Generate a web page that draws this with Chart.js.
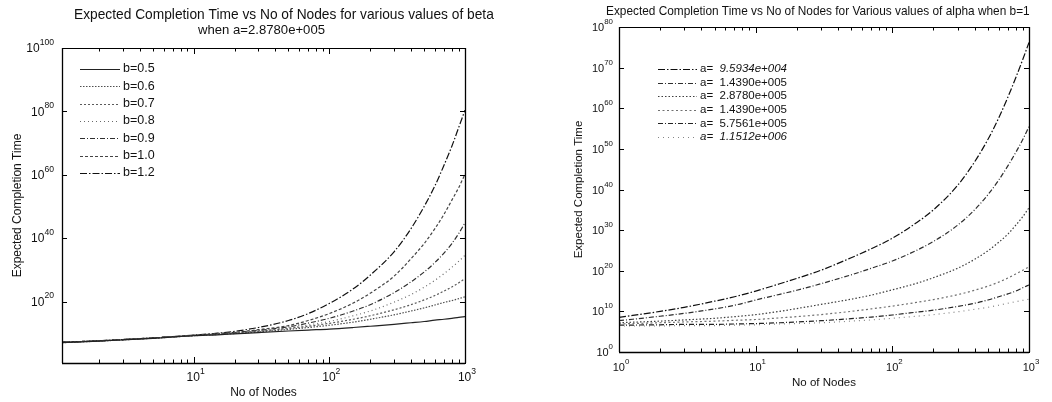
<!DOCTYPE html>
<html>
<head>
<meta charset="utf-8">
<script src="https://cdn.jsdelivr.net/npm/chart.js@4.4.0/dist/chart.umd.min.js"></script>
<style>
  html, body { margin: 0; padding: 0; background: #fff; }
  #wrap { position: relative; width: 1052px; height: 402px; overflow: hidden; }
  canvas { position: absolute; top: 0; }
</style>
</head>
<body>
<div id="wrap">
  <canvas id="betaChart" width="526" height="402" style="left:0"></canvas>
  <canvas id="alphaChart" width="526" height="402" style="left:526px"></canvas>
</div>
<script>
// ---- Left panel: completion time for several beta values (a = 2.8780e+005) ----
const betaNodes = [1.07, 2, 3, 5, 7, 10, 15, 20, 30, 50, 70, 100, 150, 200, 300, 400, 500, 600, 700, 800, 900, 1000];
const betaNames = ['b=0.5', 'b=0.6', 'b=0.7', 'b=0.8', 'b=0.9', 'b=1.0', 'b=1.2'];
const beta05 = [1e7, 3.2e7, 7.9e7, 2.5e8, 6.3e8, 1.6e9, 3.2e9, 6.3e9, 1.6e10, 5e10, 1e11, 2e11, 6.3e11, 1.6e12, 6.3e12, 2e13, 5e13, 1.3e14, 2.5e14, 5e14, 1e15, 1.6e15];
const beta06 = [1e7, 3.2e7, 7.9e7, 2.5e8, 6.3e8, 1.6e9, 4e9, 7.9e9, 2.5e10, 1.6e11, 6.3e11, 3.2e12, 3.2e13, 2.5e14, 6.3e15, 1e17, 1e18, 7.9e18, 5e19, 2e20, 7.9e20, 3.2e21];
const beta07 = [1.3e7, 4e7, 1e8, 3.2e8, 7.9e8, 2e9, 5e9, 1e10, 4e10, 3.2e11, 1.6e12, 1.3e13, 2.5e14, 3.2e15, 2.5e17, 1e19, 3.2e20, 7.9e21, 2e23, 4e24, 7.9e25, 1.6e27];
const beta08 = [1.3e7, 4e7, 1e8, 3.2e8, 7.9e8, 2e9, 6.3e9, 1.3e10, 5e10, 5e11, 4e12, 5e13, 3.2e15, 1e17, 6.3e19, 1.6e22, 3.2e24, 5e26, 6.3e28, 6.3e30, 5e32, 4e34];
const beta09 = [1.6e7, 4e7, 1e8, 3.2e8, 7.9e8, 2e9, 6.3e9, 1.6e10, 7.9e10, 1e12, 1.6e13, 5e14, 1e17, 1e19, 6.3e22, 1.6e26, 2e29, 2e32, 2e35, 2e38, 3.2e41, 6.3e44];
const beta10 = [1.6e7, 4e7, 1e8, 3.2e8, 7.9e8, 2e9, 7.9e9, 2e10, 1.3e11, 2.5e12, 1e14, 1.6e16, 3.2e19, 4e22, 1e28, 3.2e33, 2e38, 1e43, 3.2e47, 1e52, 1e56, 1.6e60];
const beta12 = [1.3e7, 4e7, 1e8, 3.2e8, 7.9e8, 2.5e9, 1e10, 4e10, 6.3e11, 1e14, 1.6e16, 2.5e19, 1e24, 2e28, 5e35, 1e43, 1e50, 3.2e56, 1e63, 1e69, 1e75, 2.5e80];
const betaYTicks = [20, 40, 60, 80, 100];   // exponents of the labelled y ticks
const betaXTicks = [1, 2, 3];               // exponents of the labelled x ticks

// ---- Right panel: completion time for several alpha values (b = 1) ----
const alphaNodes = [1, 2, 3, 5, 7, 10, 15, 20, 30, 50, 70, 100, 150, 200, 300, 400, 500, 600, 700, 800, 900, 1000];
const alphaNames = ['a=  9.5934e+004', 'a=  1.4390e+005', 'a=  2.8780e+005', 'a=  1.4390e+005', 'a=  5.7561e+005', 'a=  1.1512e+006'];
const alpha1 = [3.2e8, 1e10, 1e11, 3.2e12, 4e13, 1e15, 6.3e16, 1.3e18, 1.3e20, 1.6e23, 2.5e25, 1e28, 6.3e31, 1e35, 1e41, 6.3e46, 2e52, 4e57, 5e62, 3.2e67, 1e72, 1.6e76];
const alpha2 = [5e7, 6.3e8, 3.2e9, 4e10, 3.2e11, 6.3e12, 1.6e14, 1.6e15, 6.3e16, 1e19, 4e20, 2.5e22, 1e25, 1.6e27, 1.6e31, 1e35, 5e38, 2e42, 6.3e45, 1.3e49, 2e52, 3.2e55];
const alpha3 = [1.6e7, 4e7, 7.9e7, 2e8, 5e8, 1.6e9, 1e10, 5e10, 5e11, 1e13, 1e14, 2e15, 7.9e16, 2e18, 4e20, 6.3e22, 7.9e24, 1e27, 1e29, 1.6e31, 2e33, 3.2e35];
const alpha4 = [7.9e6, 1.6e7, 2.5e7, 4e7, 6.3e7, 1e8, 2.5e8, 5e8, 1.6e9, 1e10, 4e10, 2e11, 1.6e12, 7.9e12, 1.3e14, 1.6e15, 1.6e16, 1.6e17, 1.6e18, 1.6e19, 1.3e20, 1e21];
const alpha5 = [4e6, 5e6, 6.3e6, 6.3e6, 7.9e6, 1e7, 1.6e7, 2.5e7, 5e7, 1.6e8, 4e8, 1.3e9, 6.3e9, 2e10, 1.6e11, 1e12, 6.3e12, 4e13, 2e14, 1e15, 6.3e15, 3.2e16];
const alpha6 = [2.5e6, 2.5e6, 3.2e6, 3.2e6, 4e6, 5e6, 7.9e6, 1e7, 1.6e7, 4e7, 7.9e7, 2e8, 6.3e8, 1.6e9, 7.9e9, 3.2e10, 1e11, 3.2e11, 1e12, 2.5e12, 5e12, 1e13];
const alphaYTicks = [0, 10, 20, 30, 40, 50, 60, 70, 80];
const alphaXTicks = [0, 1, 2, 3];

const FONT = '"Liberation Sans", Arial, Helvetica, sans-serif';

function pairs(xs, ys) { return xs.map((x, i) => ({ x: x, y: ys[i] })); }

function series(label, xs, ys, color, dash, italic) {
  return {
    label: label, data: pairs(xs, ys), borderColor: color, borderDash: dash,
    borderWidth: 1.2, pointRadius: 0, fill: false, italicLabel: italic || 0
  };
}

// Pick the font size that makes a string span the given width.
function fitFont(ctx, text, width, style) {
  ctx.font = (style || '') + ' 12px ' + FONT;
  const w = ctx.measureText(text).width;
  return 12 * width / w;
}

// "10" with a raised exponent.
function drawPow(ctx, exp, x, y, align, size) {
  const base = size + 'px ' + FONT;
  const sup = (size * 0.72).toFixed(1) + 'px ' + FONT;
  ctx.font = base; const wb = ctx.measureText('10').width;
  ctx.font = sup; const we = ctx.measureText(String(exp)).width;
  const x0 = align === 'right' ? x - wb - we : x - (wb + we) / 2;
  ctx.textAlign = 'left'; ctx.textBaseline = 'middle';
  ctx.font = base; ctx.fillText('10', x0, y);
  ctx.font = sup; ctx.fillText(String(exp), x0 + wb, y - size * 0.55);
}

// Box, inward ticks, power-of-ten labels, titles and an inset legend.
const framePlugin = {
  id: 'frame',
  afterDraw(chart, args, o) {
    const ctx = chart.ctx, a = chart.chartArea;
    const xs = chart.scales.x, ys = chart.scales.y;
    ctx.save();
    ctx.strokeStyle = '#000'; ctx.fillStyle = '#000';
    ctx.lineWidth = 1;
    ctx.strokeRect(Math.round(a.left) + 0.5, Math.round(a.top) + 0.5,
                   Math.round(a.right - a.left), Math.round(a.bottom - a.top));
    ctx.lineWidth = 1.6;
    ctx.beginPath(); ctx.moveTo(a.left, a.bottom + 0.5); ctx.lineTo(a.right, a.bottom + 0.5); ctx.stroke();
    ctx.lineWidth = 1.3;
    ctx.beginPath(); ctx.moveTo(a.left + 0.5, a.top); ctx.lineTo(a.left + 0.5, a.bottom); ctx.stroke();
    ctx.beginPath(); ctx.moveTo(a.right + 0.5, a.top); ctx.lineTo(a.right + 0.5, a.bottom); ctx.stroke();

    // x ticks (major + minor), bottom and top
    ctx.lineWidth = 1;
    const d0 = Math.floor(Math.log10(xs.min)), d1 = Math.ceil(Math.log10(xs.max));
    for (let d = d0; d <= d1; d++) {
      for (let m = 1; m <= 9; m++) {
        const v = m * Math.pow(10, d);
        if (v < xs.min * 0.999 || v > xs.max * 1.001) continue;
        const px = Math.round(xs.getPixelForValue(v)) + 0.5;
        const len = m === 1 ? 6 : 3.5;
        ctx.beginPath();
        ctx.moveTo(px, a.bottom); ctx.lineTo(px, a.bottom - len);
        ctx.moveTo(px, a.top); ctx.lineTo(px, a.top + len);
        ctx.stroke();
      }
    }
    // y ticks, left and right
    o.yTicks.forEach(e => {
      const py = Math.round(ys.getPixelForValue(Math.pow(10, e))) + 0.5;
      ctx.beginPath();
      ctx.moveTo(a.left, py); ctx.lineTo(a.left + 5, py);
      ctx.moveTo(a.right, py); ctx.lineTo(a.right - 5, py);
      ctx.stroke();
    });

    // tick labels
    ctx.fillStyle = '#111';
    o.yLabels.forEach(e => {
      const py = ys.getPixelForValue(Math.pow(10, e));
      drawPow(ctx, e, a.left - o.yLabelGap, py + 1, 'right', o.tickSize);
    });
    o.xLabels.forEach(e => {
      const px = xs.getPixelForValue(Math.pow(10, e));
      drawPow(ctx, e, px + 2, a.bottom + o.xLabelGap, 'center', o.tickSize);
    });

    // axis titles
    ctx.textAlign = 'center'; ctx.textBaseline = 'middle';
    ctx.font = o.labelSize + 'px ' + FONT;
    ctx.fillText('No of Nodes', (a.left + a.right) / 2, a.bottom + o.xTitleGap);
    ctx.save();
    ctx.translate(o.yTitleX, (a.top + a.bottom) / 2);
    ctx.rotate(-Math.PI / 2);
    ctx.fillText('Expected Completion Time', 0, 0);
    ctx.restore();

    // chart title lines: [text, left x, width, centre y]
    ctx.textAlign = 'left';
    o.title.forEach(t => {
      const size = fitFont(ctx, t[0], t[2]);
      ctx.font = size.toFixed(2) + 'px ' + FONT;
      ctx.fillText(t[0], t[1], t[3]);
    });

    // inset legend
    const L = o.legend;
    chart.data.datasets.forEach((ds, i) => {
      const y = a.top + L.top + i * L.step;
      ctx.strokeStyle = ds.borderColor; ctx.lineWidth = 1;
      ctx.setLineDash(ds.borderDash || []);
      ctx.beginPath();
      ctx.moveTo(a.left + L.x0, Math.round(y) + 0.5);
      ctx.lineTo(a.left + L.x1, Math.round(y) + 0.5);
      ctx.stroke();
      ctx.setLineDash([]);
      ctx.fillStyle = '#111';
      ctx.textBaseline = 'middle';
      const tx = a.left + L.x1 + L.gap;
      if (ds.italicLabel === 1) {
        const parts = ds.label.split('  ');
        ctx.font = L.size + 'px ' + FONT;
        ctx.fillText(parts[0] + '  ', tx, y);
        const w = ctx.measureText(parts[0] + '  ').width;
        ctx.font = 'italic ' + L.size + 'px ' + FONT;
        ctx.fillText(parts[1], tx + w, y);
      } else {
        ctx.font = (ds.italicLabel === 2 ? 'italic ' : '') + L.size + 'px ' + FONT;
        ctx.fillText(ds.label, tx, y);
      }
    });
    ctx.restore();
  }
};

function makeChart(id, datasets, xr, yr, padding, frameOpts) {
  return new Chart(document.getElementById(id), {
    type: 'line',
    data: { datasets: datasets },
    plugins: [framePlugin],
    options: {
      responsive: false, animation: false, events: [],
      layout: { padding: padding },
      elements: { line: { tension: 0.35, cubicInterpolationMode: 'monotone' }, point: { radius: 0 } },
      plugins: { legend: { display: false }, tooltip: { enabled: false }, title: { display: false }, frame: frameOpts },
      scales: {
        x: { type: 'logarithmic', display: false, min: xr[0], max: xr[1] },
        y: { type: 'logarithmic', display: false, min: yr[0], max: yr[1] }
      }
    }
  });
}

const betaSets = [
  series(betaNames[0], betaNodes, beta05, '#222222', []),
  series(betaNames[1], betaNodes, beta06, '#4e4e4e', [1.5, 1.5]),
  series(betaNames[2], betaNodes, beta07, '#5a5a5a', [2, 2]),
  series(betaNames[3], betaNodes, beta08, '#6a6a6a', [1, 3]),
  series(betaNames[4], betaNodes, beta09, '#2e2e2e', [5, 2, 1, 2]),
  series(betaNames[5], betaNodes, beta10, '#444444', [3, 2]),
  series(betaNames[6], betaNodes, beta12, '#101010', [7, 2, 1.5, 2])
];

makeChart('betaChart', betaSets, [1.07, 1000], [Math.pow(10, 0.6), 1e100],
  { left: 62, right: 61, top: 48, bottom: 39 },
  {
    yTicks: [20, 40, 60, 80, 100], yLabels: betaYTicks, xLabels: betaXTicks,
    yLabelGap: 8, xLabelGap: 15, xTitleGap: 30, yTitleX: 18,
    tickSize: 12, labelSize: 12,
    title: [
      ['Expected Completion Time vs No of Nodes for various values of beta', 74, 420, 15],
      ['when a=2.8780e+005', 198, 127, 30]
    ],
    legend: { top: 21, step: 17.3, x0: 18, x1: 58, gap: 3, size: 12.5 }
  });

const alphaSets = [
  series(alphaNames[0], alphaNodes, alpha1, '#0e0e0e', [7, 2, 1.5, 2], 1),
  series(alphaNames[1], alphaNodes, alpha2, '#2e2e2e', [5, 2, 1, 2]),
  series(alphaNames[2], alphaNodes, alpha3, '#3e3e3e', [1.5, 2]),
  series(alphaNames[3], alphaNodes, alpha4, '#707070', [2, 2.5]),
  series(alphaNames[4], alphaNodes, alpha5, '#222222', [5, 2, 1, 2]),
  series(alphaNames[5], alphaNodes, alpha6, '#858585', [1, 4], 2)
];

makeChart('alphaChart', alphaSets, [1, 1000], [1, 1e80],
  { left: 93, right: 23, top: 27, bottom: 50 },
  {
    yTicks: alphaYTicks, yLabels: alphaYTicks, xLabels: alphaXTicks,
    yLabelGap: 6, xLabelGap: 16, xTitleGap: 31, yTitleX: 53,
    tickSize: 11, labelSize: 11.5,
    title: [
      ['Expected Completion Time vs No of Nodes for Various values of alpha when b=1', 80, 424, 12]
    ],
    legend: { top: 42, step: 13.6, x0: 39, x1: 78, gap: 3, size: 11.5 }
  });
</script>
</body>
</html>
